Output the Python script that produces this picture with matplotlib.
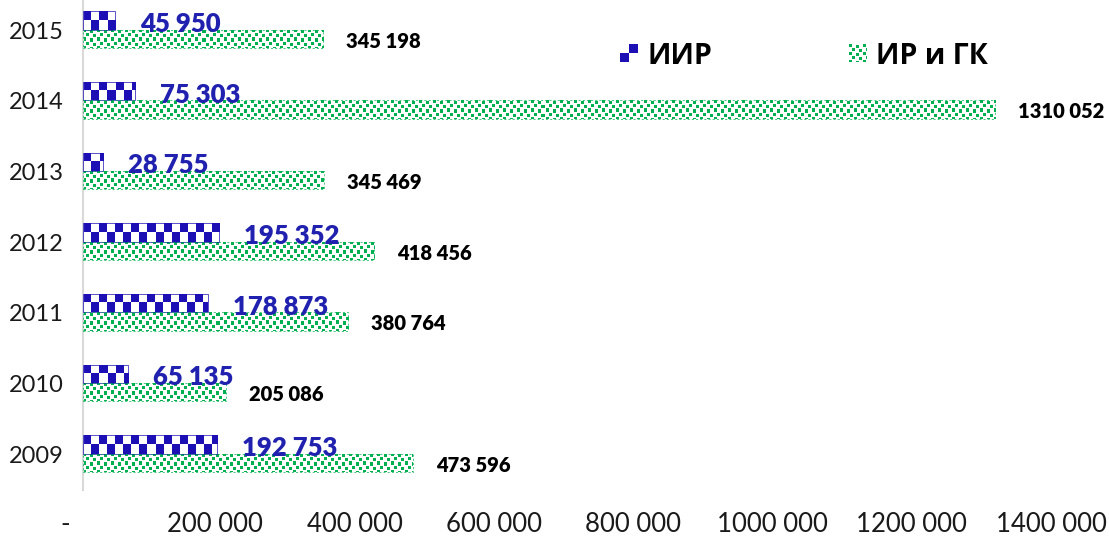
import numpy as np
import matplotlib
matplotlib.use("Agg")
from matplotlib import pyplot as plt
from matplotlib.colors import to_rgba
from matplotlib.transforms import ScaledTranslation

# data
years = ["2009", "2010", "2011", "2012", "2013", "2014", "2015"]
iir = [192753, 65135, 178873, 195352, 28755, 75303, 45950]
ir_gk = [473596, 205086, 380764, 418456, 345469, 1310052, 345198]
x_ticks = [0, 200000, 400000, 600000, 800000, 1000000, 1200000, 1400000]
series_names = ["ИИР", "ИР и ГК"]

BLUE = "#1c10b4"
GREEN = "#00b050"
LABEL_BLUE = "#2121b0"
W, H = 1109, 537

# confetti tile for the green series (1 = green pixel)
CONFETTI = np.zeros((8, 14), dtype=int)
for r, c in [(0, 0), (1, 7), (4, 3), (5, 10)]:
	for dr in range(3):
		for dc in range(3):
			CONFETTI[(r + dr) % 8, (c + dc) % 14] = 1


def fmt(v):
	if v == 0:
		return "-"
	return f"{v // 1000} {v % 1000:03d}"


def checker_mask(hpx, wpx, cell_w=8, top_left=True):
	r = np.arange(hpx) * 2 // max(hpx, 1)
	c = np.arange(wpx) // cell_w
	m = (r[:, None] + c[None, :]) % 2 == 0
	return m if top_left else ~m


def confetti_mask(hpx, wpx):
	th, tw = CONFETTI.shape
	reps = np.tile(CONFETTI, (hpx // th + 1, wpx // tw + 1))
	return reps[:hpx, :wpx] == 1


def to_image(mask, color):
	img = np.zeros(mask.shape + (4,))
	img[mask] = to_rgba(color)
	return img


def fill_bar(ax, bar, kind, color, sx, sy):
	x0, y0 = bar.get_x(), bar.get_y()
	w, h = bar.get_width(), bar.get_height()
	wpx, hpx = max(int(round(w * sx)), 1), max(int(round(h * sy)), 1)
	if kind == "checker":
		mask = checker_mask(hpx, wpx)
	else:
		mask = confetti_mask(hpx, wpx)
	im = ax.imshow(to_image(mask, color), extent=(x0, x0 + w, y0, y0 + h),
		origin="upper", interpolation="nearest", aspect="auto", zorder=2)
	im.set_clip_path(bar)


fig = plt.figure(figsize=(W / 100, H / 100), dpi=100)
ax = fig.add_axes([83 / W, 1 - 490 / H, 975 / W, 490 / H])
ax.set_autoscale_on(False)
ax.set_xlim(0, 1400000)
ax.set_ylim(-0.509, 6.425)

sx = 975 / 1400000
sy = 490 / (6.425 + 0.509)

y = np.arange(len(years))
blue_bars = ax.barh(y + 0.005, iir, height=0.26, align="edge",
	facecolor="none", edgecolor=BLUE, lw=0.5, zorder=3)
green_bars = ax.barh(y - 0.255, ir_gk, height=0.26, align="edge",
	facecolor="none", edgecolor=GREEN, lw=0.5, ls=(0, (3, 3)), zorder=3)

for bar in blue_bars:
	fill_bar(ax, bar, "checker", BLUE, sx, sy)
for bar in green_bars:
	fill_bar(ax, bar, "confetti", GREEN, sx, sy)

for yi, v in zip(y, iir):
	ax.annotate(fmt(v), xy=(v, yi - 0.03), xytext=(18, 0), textcoords="offset points",
		color=LABEL_BLUE, fontsize=18.5, fontweight="heavy", family="Lato",
		ha="left", va="baseline", zorder=4)
for yi, v in zip(y, ir_gk):
	ax.annotate(fmt(v), xy=(v, yi - 0.25), xytext=(16.5, 0), textcoords="offset points",
		color="black", fontsize=14.5, fontweight="heavy", family="Lato",
		ha="left", va="baseline", zorder=4)

ax.set_yticks(y, years)
ax.set_xticks(x_ticks, [fmt(v) + ("   " if v == 0 else "") for v in x_ticks])
ax.tick_params(axis="y", length=0, pad=14, labelsize=17, labelcolor="#1a1a1a")
ax.tick_params(axis="x", length=0, pad=16, labelsize=18.5, labelcolor="#1a1a1a")
for lbl in ax.get_yticklabels() + ax.get_xticklabels():
	lbl.set_family("Lato")
	lbl.set_fontweight("normal")
shift = ScaledTranslation(-7 / 100, 0, fig.dpi_scale_trans)
for lbl in ax.get_xticklabels():
	lbl.set_transform(lbl.get_transform() + shift)

for s in ["top", "right", "bottom"]:
	ax.spines[s].set_visible(False)
ax.spines["left"].set_color("#d9d9d9")
ax.spines["left"].set_linewidth(1.5)

# legend, drawn by hand so the patterns show
def ax_frac(px, py):
	return (px - 83) / 975, (490 - py) / 490

legend_items = [(620, "checker", BLUE, 648), (849, "confetti", GREEN, 876)]
for name, (px, kind, color, tx) in zip(series_names, legend_items):
	x0, y1 = ax_frac(px, 44)
	x1, y0 = ax_frac(px + 18, 62)
	if kind == "checker":
		mask = ~checker_mask(18, 18, cell_w=9)
	else:
		mask = confetti_mask(18, 18)
	ax.imshow(to_image(mask, color), extent=(x0, x1, y0, y1), transform=ax.transAxes,
		origin="upper", interpolation="nearest", aspect="auto", clip_on=False, zorder=4)
	tx0, ty0 = ax_frac(tx, 64)
	ax.text(tx0, ty0, name, transform=ax.transAxes, fontsize=20.5, fontweight="bold",
		family=["Open Sans", "DejaVu Sans"], ha="left", va="baseline", color="black")

fig.savefig("out.png", dpi=100)
